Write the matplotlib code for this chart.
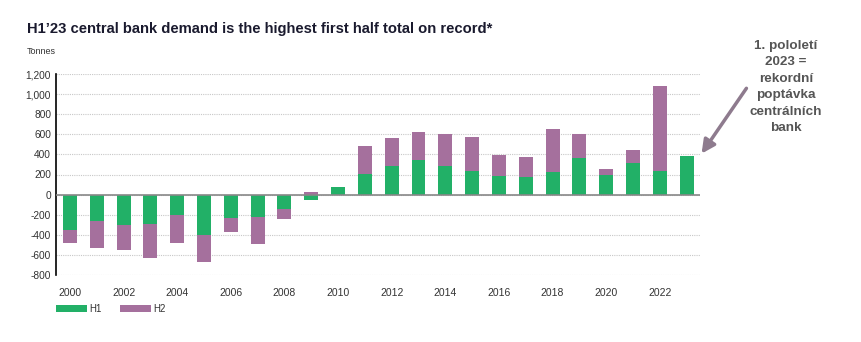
import matplotlib.pyplot as plt
from matplotlib.ticker import FuncFormatter

plt.rcParams['font.family'] = ['Liberation Sans', 'DejaVu Sans']

years = list(range(2000, 2024))
h1 = [-355, -262, -299, -295, -199, -405, -232, -219, -146, -55, 75, 206,
      282, 348, 282, 239, 186, 179, 226, 365, 192, 315, 235, 385]
h2 = [-126, -265, -255, -335, -282, -265, -136, -272, -96, 25, 0, 275,
      282, 279, 318, 338, 205, 199, 427, 242, 63, 133, 846, 0]

green = '#22b067'
purple = '#a5709d'

fig = plt.figure(figsize=(8.62, 3.42), dpi=100)
ax = fig.add_axes([56 / 862, 67 / 342, 644 / 862, 201 / 342])

# stack H2 on top of H1 when both have the same sign, otherwise start from zero
bottoms = [a if a * b > 0 else 0 for a, b in zip(h1, h2)]
ax.bar(years, h1, width=0.52, color=green, zorder=2)
ax.bar(years, h2, width=0.52, bottom=bottoms, color=purple, zorder=2)

ax.set_xlim(1999.48, 2023.5)
ax.set_ylim(-800, 1200)
ax.set_yticks(range(-800, 1201, 200))
ax.set_xticks(range(2000, 2023, 2))
ax.yaxis.set_major_formatter(FuncFormatter(lambda v, p: f'{int(v):,}'))
ax.tick_params(length=0, labelsize=7.3, colors='#333333')
ax.tick_params(axis='x', pad=9, labelsize=7.5)
ax.grid(axis='y', linestyle=(0, (1, 1)), color='#c8c8c8', linewidth=0.8, zorder=0)
ax.axhline(0, color='#888888', linewidth=1.2, zorder=3)
for s in ['top', 'right', 'bottom']:
    ax.spines[s].set_visible(False)
ax.spines['left'].set_color('black')
ax.spines['left'].set_linewidth(1.2)

fig.text(27 / 862, 1 - 29 / 342, 'H1\u201923 central bank demand is the highest first half total on record*',
         fontsize=10.6, fontweight='bold', color='#1a1a2e', va='center')
fig.text(27 / 862, 1 - 51 / 342, 'Tonnes', fontsize=6.5, color='#333333', va='center')

# legend drawn as small patches under the axis
for x0, c, lab in [(56, green, 'H1'), (120, purple, 'H2')]:
    fig.patches.append(plt.Rectangle((x0 / 862, 1 - 312 / 342), 31 / 862, 7 / 342,
                                     facecolor=c, transform=fig.transFigure))
    fig.text((x0 + 33) / 862, 1 - 308.5 / 342, lab, fontsize=7, color='#333333', va='center')

fig.text(786 / 862, 1 - 87 / 342, '1. pololetí\n2023 =\nrekordní\npoptávka\ncentrálních\nbank',
         ha='center', va='center', fontsize=9.7, fontweight='bold', color='#555555', linespacing=1.5)
ax.annotate('', xy=(2023.5, 385), xycoords='data',
            xytext=(748 / 862, 1 - 86 / 342), textcoords='figure fraction',
            arrowprops=dict(arrowstyle='-|>,head_length=0.8,head_width=0.4', color='#8e7b8e', lw=2.5),
            annotation_clip=False)

fig.savefig('out.png', dpi=100)
